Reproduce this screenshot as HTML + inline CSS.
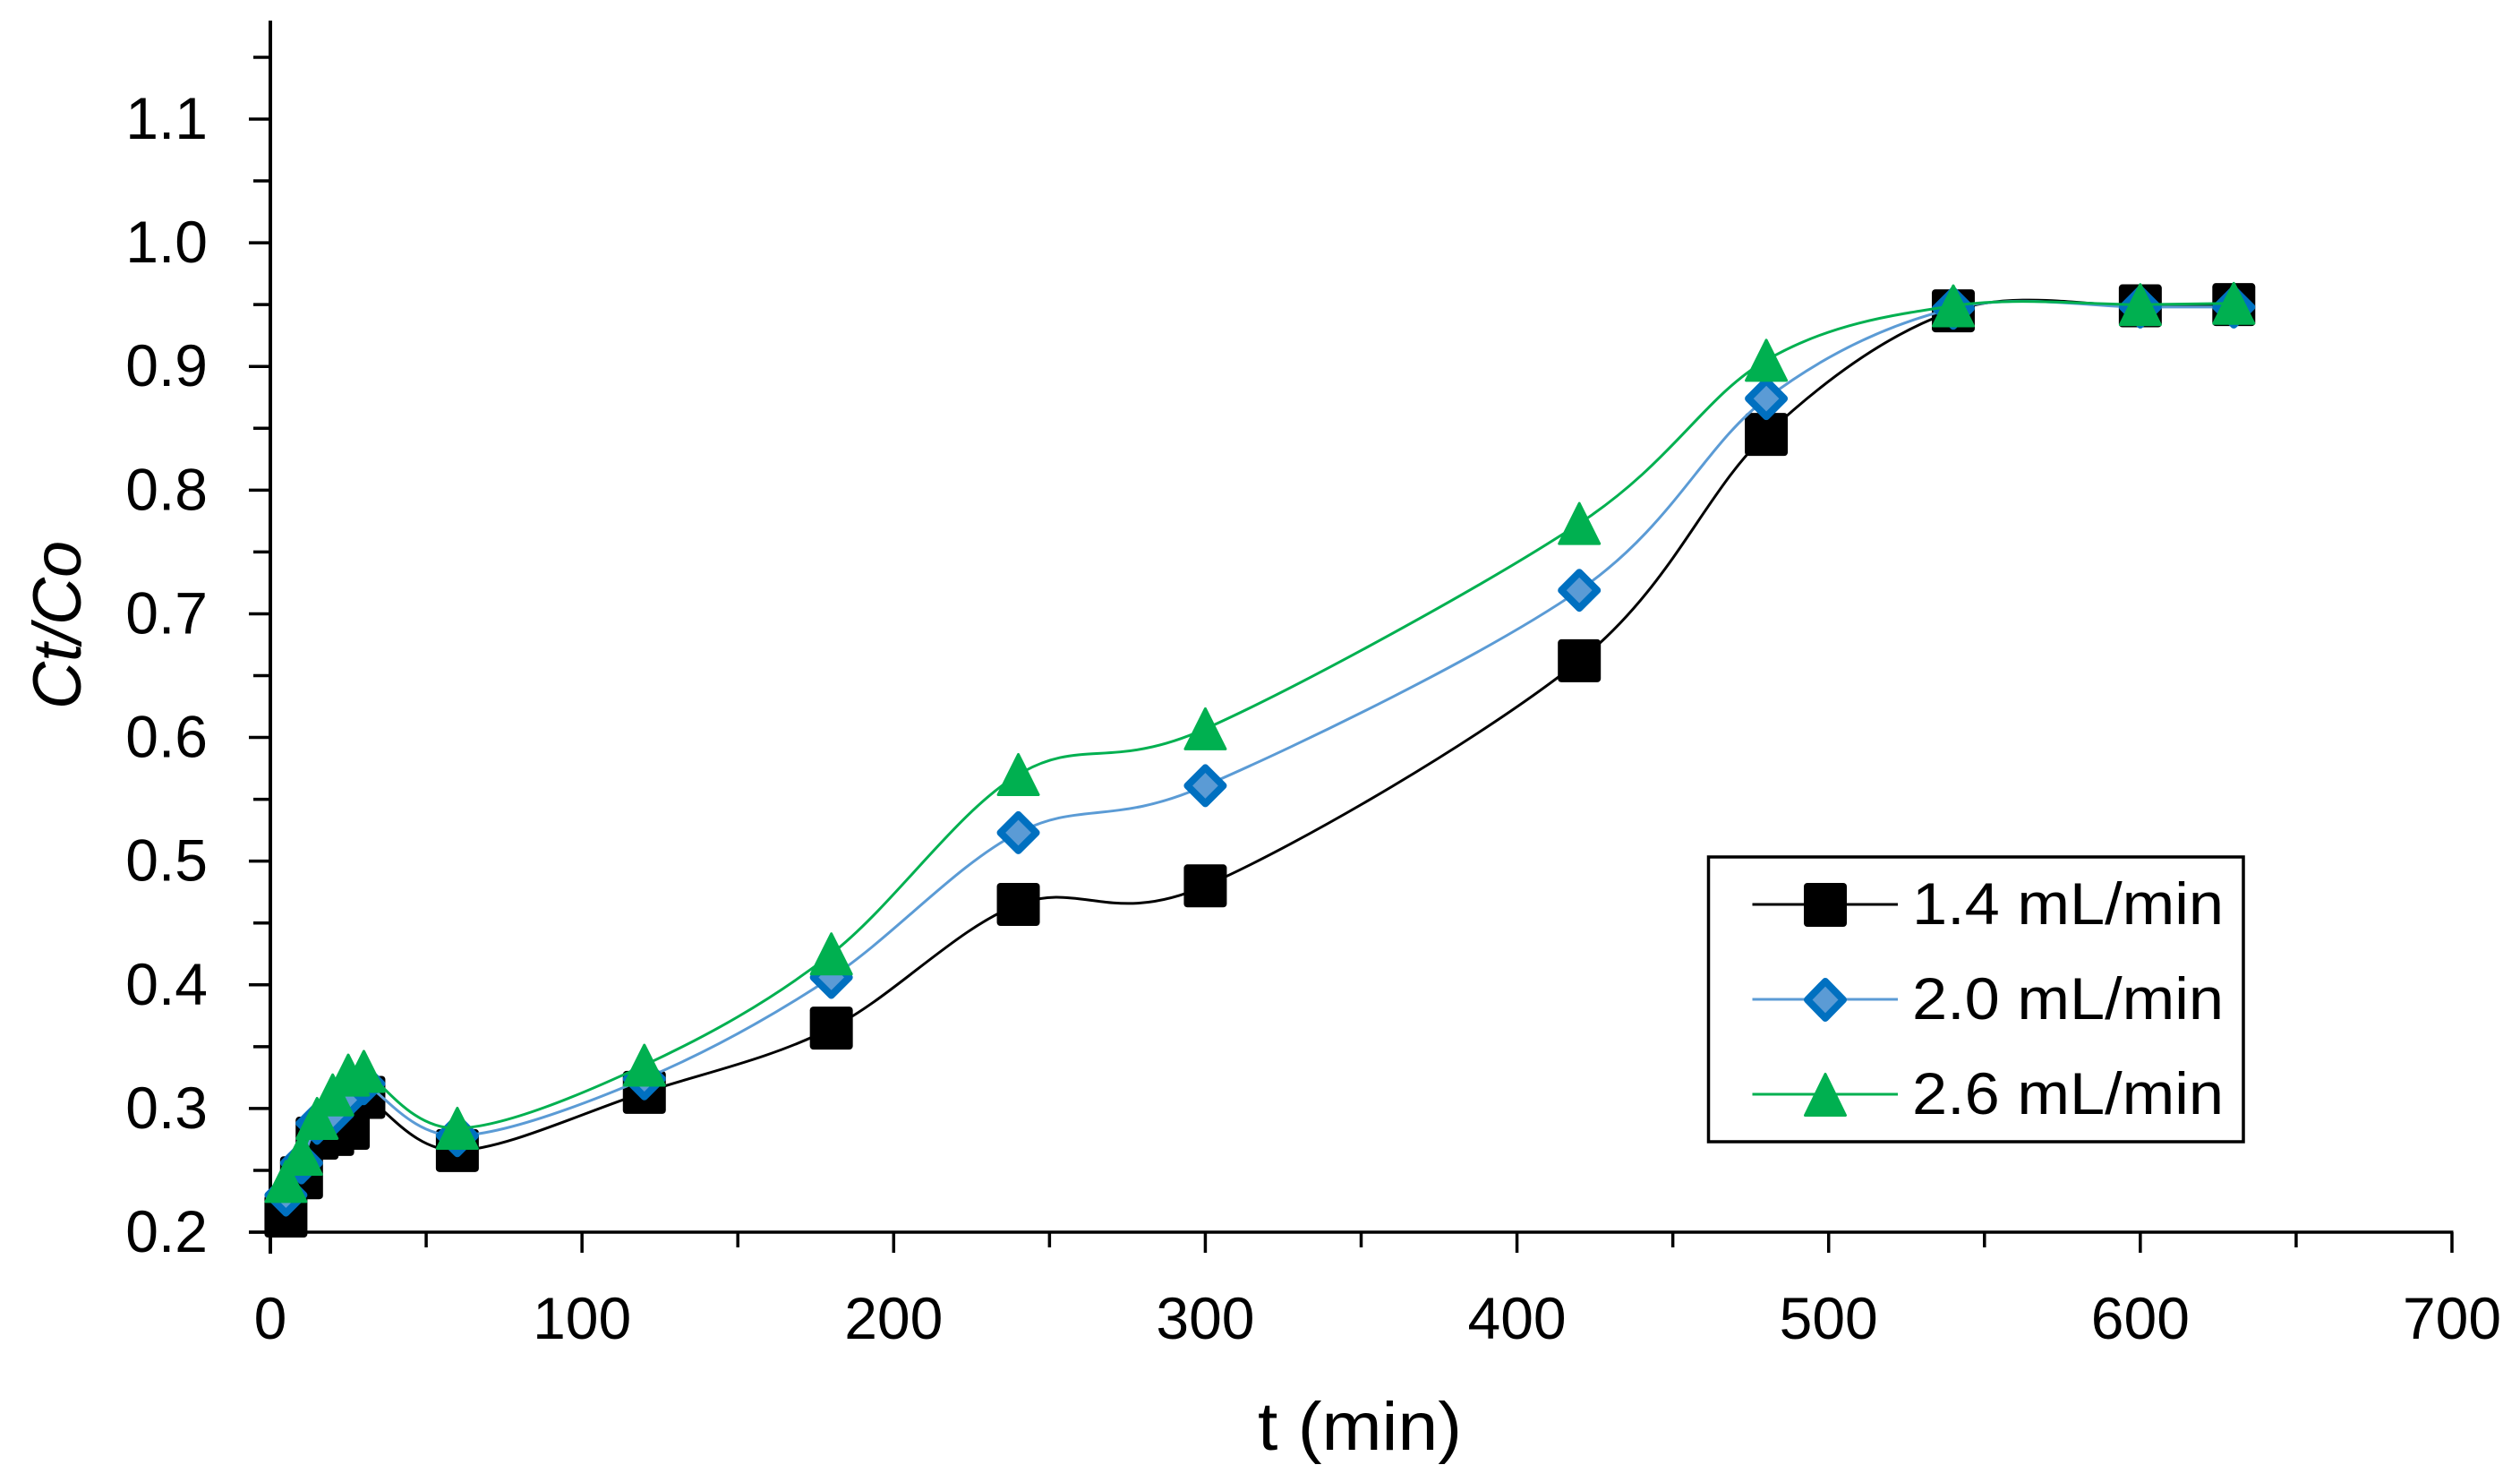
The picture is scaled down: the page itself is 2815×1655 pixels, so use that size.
<!DOCTYPE html>
<html lang="en">
<head>
<meta charset="utf-8">
<title>Ct/Co breakthrough curves</title>
<style>
html,body{margin:0;padding:0;background:#fff;width:2815px;height:1655px;overflow:hidden}
svg{display:block}
text{font-family:"Liberation Sans",sans-serif;fill:#000}
</style>
</head>
<body>
<svg id="chart" xmlns="http://www.w3.org/2000/svg" width="2815" height="1655" viewBox="0 0 2815 1655">
<rect x="0" y="0" width="2815" height="1655" fill="#fff"/>
<g id="axes"></g>
<g id="series"></g>
<text x="1405" y="1619" font-size="76" textLength="228" lengthAdjust="spacingAndGlyphs">t (min)</text>
<text transform="translate(90,792) rotate(-90)" x="0" y="0" font-size="76" font-style="italic" textLength="188" lengthAdjust="spacingAndGlyphs">Ct/Co</text>
<g id="legend"></g>
</svg>
<script>
var times = [5, 10, 15, 20, 25, 30, 60, 120, 180, 240, 300, 420, 480, 540, 600, 630];
var flow14 = [0.213, 0.244, 0.276, 0.279, 0.284, 0.309, 0.266, 0.313, 0.365, 0.465, 0.480, 0.662, 0.845, 0.945, 0.949, 0.950];
var flow20 = [0.230, 0.256, 0.288, 0.295, 0.310, 0.320, 0.278, 0.324, 0.406, 0.523, 0.561, 0.719, 0.874, 0.947, 0.948, 0.948];
var flow26 = [0.241, 0.263, 0.292, 0.311, 0.327, 0.330, 0.284, 0.335, 0.425, 0.570, 0.607, 0.773, 0.905, 0.949, 0.950, 0.951];
var seriesNames = ["1.4 mL/min", "2.0 mL/min", "2.6 mL/min"];
var xTickLabels = ["0", "100", "200", "300", "400", "500", "600", "700"];
var yTickLabels = ["0.2", "0.3", "0.4", "0.5", "0.6", "0.7", "0.8", "0.9", "1.0", "1.1"];

var NS = "http://www.w3.org/2000/svg";
var X0 = 302, X1 = 2739, Y0 = 1376, Y11 = 133;
function xPos(t) { return X0 + (t / 700) * (X1 - X0); }
function yPos(v) { return Y0 - ((v - 0.2) / 0.9) * (Y0 - Y11); }

function make(tag, parent, attrs) {
  var el = document.createElementNS(NS, tag);
  for (var k in attrs) el.setAttribute(k, attrs[k]);
  parent.appendChild(el);
  return el;
}

function smoothPath(pts) {
  var d = "M" + pts[0][0].toFixed(2) + " " + pts[0][1].toFixed(2);
  for (var i = 0; i < pts.length - 1; i++) {
    var p0 = pts[Math.max(i - 1, 0)], p1 = pts[i], p2 = pts[i + 1], p3 = pts[Math.min(i + 2, pts.length - 1)];
    var c1x = p1[0] + (p2[0] - p0[0]) / 6, c1y = p1[1] + (p2[1] - p0[1]) / 6;
    var c2x = p2[0] - (p3[0] - p1[0]) / 6, c2y = p2[1] - (p3[1] - p1[1]) / 6;
    d += "C" + c1x.toFixed(2) + " " + c1y.toFixed(2) + " " + c2x.toFixed(2) + " " + c2y.toFixed(2) + " " + p2[0].toFixed(2) + " " + p2[1].toFixed(2);
  }
  return d;
}

function marker(kind, parent, cx, cy, w, h) {
  var el;
  if (kind === "square") {
    el = make("rect", parent, { x: cx - w / 2, y: cy - h / 2, width: w, height: h, rx: 4, ry: 4, fill: "#000" });
  } else if (kind === "diamond") {
    var hw = w / 2 - 4, hh = h / 2 - 4;
    el = make("polygon", parent, {
      points: cx + "," + (cy - hh) + " " + (cx + hw) + "," + cy + " " + cx + "," + (cy + hh) + " " + (cx - hw) + "," + cy,
      fill: "#5B9BD5", stroke: "#0070C0", "stroke-width": 8, "stroke-linejoin": "round"
    });
  } else {
    var tw = w / 2 - 1.5, th = h / 2 - 1.5;
    el = make("polygon", parent, {
      points: cx + "," + (cy - th) + " " + (cx + tw) + "," + (cy + th) + " " + (cx - tw) + "," + (cy + th),
      fill: "#00B050", stroke: "#00B050", "stroke-width": 3, "stroke-linejoin": "round"
    });
  }
  return el;
}

/* axes */
var axes = document.getElementById("axes");
var yAxisLine = make("line", axes, { x1: X0, y1: 23, x2: X0, y2: 1400, stroke: "#000", "stroke-width": 4 });


var xAxisLine = make("line", axes, { x1: 278, y1: Y0, x2: X1 + 1.5, y2: Y0, stroke: "#000", "stroke-width": 3.5 });



xTickLabels.forEach(function (label, i) {
  var t = Number(label);
  var tick = make("line", axes, { x1: xPos(t), y1: Y0, x2: xPos(t), y2: 1399, stroke: "#000", "stroke-width": 3.5 });
  
  
  var txt = make("text", axes, { x: xPos(t), y: 1495, "font-size": 66, "text-anchor": "middle" });
  txt.textContent = label;
  
  
  if (i < xTickLabels.length - 1) {
    var mid = t + 50;
    var minor = make("line", axes, { x1: xPos(mid), y1: Y0, x2: xPos(mid), y2: 1393, stroke: "#000", "stroke-width": 3.5 });
    
    
  }
});

yTickLabels.forEach(function (label) {
  var v = Number(label);
  var tick = make("line", axes, { x1: 278, y1: yPos(v), x2: X0, y2: yPos(v), stroke: "#000", "stroke-width": 3.5 });
  
  
  var txt = make("text", axes, { x: 232, y: yPos(v) + 22, "font-size": 66, "text-anchor": "end" });
  txt.textContent = label;
  
  
  var minor = make("line", axes, { x1: 283, y1: yPos(v + 0.05), x2: X0, y2: yPos(v + 0.05), stroke: "#000", "stroke-width": 3.5 });
  
  
});

/* series */
var seriesRoot = document.getElementById("series");
var seriesValues = [flow14, flow20, flow26];
var lineColors = ["#000000", "#5B9BD5", "#00B050"];
var markerKinds = ["square", "diamond", "triangle"];
var seriesKeys = ["flow-1-4", "flow-2-0", "flow-2-6"];

seriesValues.forEach(function (vals, s) {
  var g = make("g", seriesRoot, {});
  
  
  var pts = times.map(function (t, i) { return [xPos(t), yPos(vals[i])]; });
  var line = make("path", g, { d: smoothPath(pts), fill: "none", stroke: lineColors[s], "stroke-width": 3 });
  
  
  pts.forEach(function (p) {
    var m = marker(markerKinds[s], g, p[0], p[1], 48, 48);
    
    
  });
});

/* legend */
var legend = document.getElementById("legend");
var legendBox = make("rect", legend, { x: 1908.5, y: 957, width: 597.5, height: 318, fill: "#fff", stroke: "#000", "stroke-width": 3.5 });


seriesNames.forEach(function (name, s) {
  var rowY = 1010 + s * 106;
  var entry = make("g", legend, {});
  
  
  var sample = make("line", entry, { x1: 1957.5, y1: rowY, x2: 2120, y2: rowY, stroke: lineColors[s], "stroke-width": 3 });
  
  
  var m = marker(markerKinds[s], entry, 2039, rowY + 0.5, 48, 49);
  
  
  var label = make("text", entry, { x: 2136, y: rowY + 22, "font-size": 66, textLength: 348, lengthAdjust: "spacingAndGlyphs" });
  label.textContent = name;
  
  
});
</script>
</body>
</html>
